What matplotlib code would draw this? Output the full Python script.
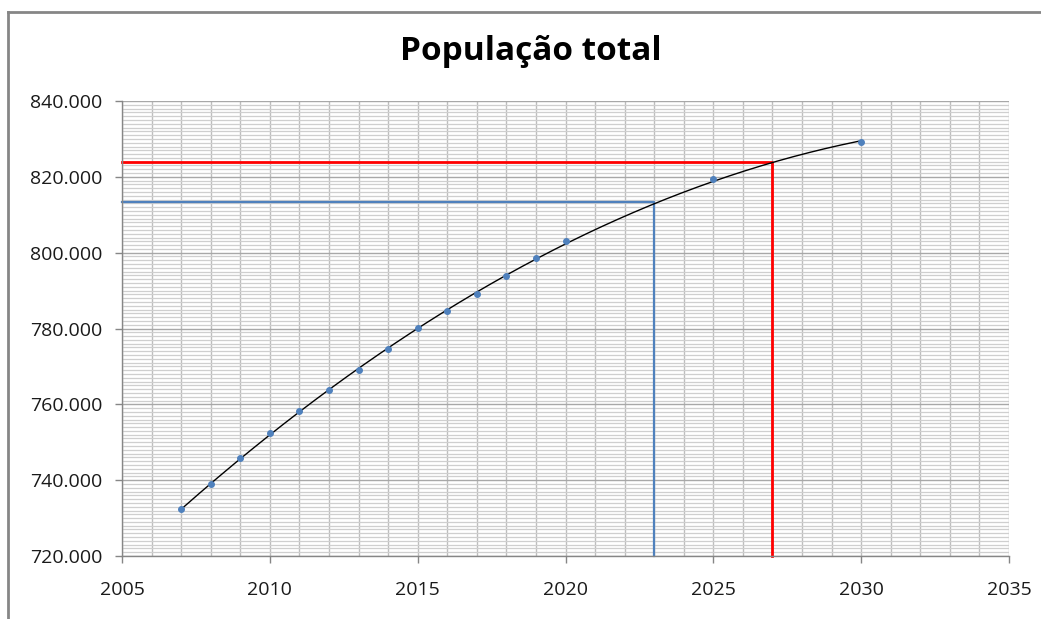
import numpy as np
import matplotlib
matplotlib.use("Agg")
import matplotlib.pyplot as plt
from matplotlib.ticker import MultipleLocator, FuncFormatter
from matplotlib.lines import Line2D

years = [2007, 2008, 2009, 2010, 2011, 2012, 2013, 2014, 2015, 2016, 2017, 2018, 2019, 2020, 2025, 2030]
population = [732.4, 739.0, 745.8, 752.4, 758.2, 763.7, 769.0, 774.6, 780.1, 784.6, 789.1, 793.8, 798.6, 803.0, 819.4, 829.1]  # thousands
red_year, red_value = 2027, 824.0
blue_year, blue_value = 2023, 813.4
title = "População total"

plt.rcParams['font.family'] = ['Open Sans', 'DejaVu Sans']

fig = plt.figure(figsize=(10.41, 6.19), dpi=100)
ax = fig.add_axes([122/1041, 1 - 556/619, (1009-122)/1041, (556-101)/619])

x0, x1 = 2005, 2035
y0, y1 = 720, 840
ax.set_xlim(x0, x1)
ax.set_ylim(y0, y1)

# grid
ax.xaxis.set_major_locator(MultipleLocator(5))
ax.xaxis.set_minor_locator(MultipleLocator(1))
ax.yaxis.set_major_locator(MultipleLocator(20))
ax.yaxis.set_minor_locator(MultipleLocator(1))
ax.grid(which='major', axis='y', color='#a8a8a8', linewidth=1.0, zorder=0)
ax.grid(which='minor', axis='y', color='#cfcfcf', linewidth=0.9, zorder=0)
ax.grid(which='both', axis='x', color='#bdbdbd', linewidth=1.0, zorder=0)
ax.set_axisbelow(True)

for s in ['top', 'right']:
    ax.spines[s].set_visible(False)
for s in ['left', 'bottom']:
    ax.spines[s].set_color('#868686')
    ax.spines[s].set_linewidth(1.0)
ax.tick_params(which='major', direction='out', length=5, color='#868686', width=1.0,
               labelsize=14, labelcolor='#1a1a1a')
ax.tick_params(which='minor', length=0)
ax.tick_params(axis='x', pad=13)
ax.tick_params(axis='y', pad=9)
ax.yaxis.set_major_formatter(FuncFormatter(lambda v, p: f"{int(round(v))}.000"))

# trend line (quadratic fit like Excel trendline)
coef = np.polyfit(years, population, 2)
xs = np.linspace(min(years), max(years), 300)
ax.plot(xs, np.polyval(coef, xs), color='black', linewidth=1.0, zorder=3)

# reference lines
ax.plot([x0, red_year, red_year], [red_value, red_value, y0], color='#ff0000', linewidth=2.0, zorder=2, clip_on=False)
ax.plot([x0, blue_year, blue_year], [blue_value, blue_value, y0], color='#4f81bd', linewidth=1.6, zorder=2, clip_on=False)

# data points
ax.plot(years, population, linestyle='none', marker='o', markersize=4,
        color='#4f81bd', zorder=4)

fig.text(531/1041, 1 - 52/619, title, ha='center', va='center',
         fontsize=24, fontweight='bold', color='black')

# outer chart frame
fig.add_artist(Line2D([8/1041, 8/1041], [0, 1 - 12/619], color='#868686', linewidth=2.0))
fig.add_artist(Line2D([8/1041, 1], [1 - 12/619, 1 - 12/619], color='#868686', linewidth=2.0))

fig.savefig('out.png', dpi=100)
